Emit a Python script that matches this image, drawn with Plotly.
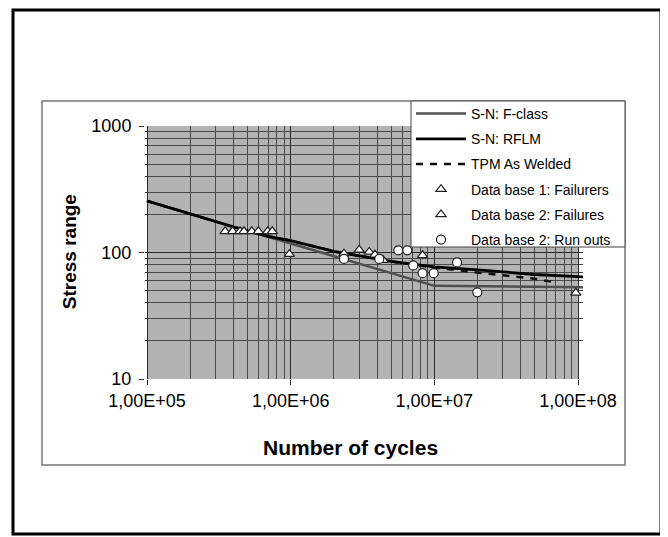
import plotly.graph_objects as go

# ---------------- data ----------------
fclass_N = [1e5, 1e7, 1.1e8]
fclass_S = [255, 54.5, 53]

rflm_N = [1e5, 2e5, 4e5, 7e5, 1e6, 2e6, 5e6, 1e7, 2e7, 5e7, 1.1e8]
rflm_S = [256, 201, 159, 134, 124, 102, 85, 77, 73, 67, 64]

tpm_N = [1e5, 2e5, 4e5, 7e5, 1e6, 2e6, 5e6, 1e7, 1.5e7, 2e7, 3e7, 5e7, 7e7]
tpm_S = [256, 201, 159, 134, 124, 102, 85, 76, 72, 69, 66, 62, 58]

db1_N = [3.5e5, 3.94e5, 4.44e5, 4.73e5, 5.36e5, 5.96e5, 6.92e5, 7.45e5]
db1_S = [147, 147, 147, 147, 147, 147, 147, 147]

db2_N = [9.8e5, 2.35e6, 3.0e6, 3.52e6, 3.86e6, 4.41e6, 8.28e6, 9.66e7]
db2_S = [97, 98, 105, 101, 96, 87, 95, 48]

run_N = [2.35e6, 4.14e6, 5.61e6, 6.48e6, 7.13e6, 8.28e6, 9.9e6, 1.44e7, 1.99e7]
run_S = [89, 89, 104, 104, 79, 68.6, 68.6, 83.4, 48.4]

x_tickvals = [1e5, 1e6, 1e7, 1e8]
x_ticktext = ["1,00E+05", "1,00E+06", "1,00E+07", "1,00E+08"]
y_tickvals = [10, 100, 1000]
y_ticktext = ["10", "100", "1000"]

# ---------------- layout geometry ----------------
OFF = 8                                   # page body margin of the html page
W, H = 668 - OFF, 537 - OFF
L, R, T, B = 145, 583, 126, 379           # plot area in page pixels
xr = [5 - 2 / 143.65, 8 + 5 / 143.65]
yr = [1, 3]


def px(x):
    return (x - L) / (R - L)


def py(y):
    return (B - y) / (B - T)


FONT = "Liberation Sans, Arial, sans-serif"

fig = go.Figure()

fig.add_trace(go.Scatter(x=fclass_N, y=fclass_S, mode="lines", name="S-N: F-class",
                         legendrank=1, legendgroup="a", line=dict(color="#505050", width=2.5)))
fig.add_trace(go.Scatter(x=tpm_N, y=tpm_S, mode="lines", name="TPM As Welded",
                         legendrank=3, legendgroup="c", line=dict(color="#111111", width=2.5, dash="7px,7px")))
fig.add_trace(go.Scatter(x=rflm_N, y=rflm_S, mode="lines", name="S-N: RFLM",
                         legendrank=2, legendgroup="b", line=dict(color="#000000", width=2.8)))
mk = dict(size=9, color="white", line=dict(color="#222222", width=1.2))
fig.add_trace(go.Scatter(x=db1_N, y=db1_S, mode="markers", name="Data base 1: Failurers",
                         legendrank=4, legendgroup="d", marker=dict(symbol="triangle-up", **mk)))
fig.add_trace(go.Scatter(x=db2_N, y=db2_S, mode="markers", name="Data base 2: Failures",
                         legendrank=5, legendgroup="e", marker=dict(symbol="triangle-up", **mk)))
fig.add_trace(go.Scatter(x=run_N, y=run_S, mode="markers", name="Data base 2: Run outs",
                         legendrank=6, legendgroup="f", marker=dict(symbol="circle", **mk)))

minor_x = [m * 10 ** e for e in range(5, 8) for m in range(2, 10)]
minor_y = [m * 10 ** e for e in range(1, 3) for m in range(2, 10)]

fig.update_xaxes(type="log", range=xr, tickmode="array", tickvals=x_tickvals, ticktext=x_ticktext,
                 showgrid=True, gridcolor="#2a2a2a", gridwidth=1, zeroline=False, showline=False,
                 ticks="outside", ticklen=5, tickcolor="#333",
                 tickfont=dict(family=FONT, size=18, color="black"),
                 minor=dict(tickmode="array", tickvals=minor_x, showgrid=True, gridcolor="#4a4a4a",
                            gridwidth=0.8, ticks=""))
fig.update_yaxes(type="log", range=yr, tickmode="array", tickvals=y_tickvals, ticktext=y_ticktext,
                 showgrid=True, gridcolor="#2a2a2a", gridwidth=1, zeroline=False, showline=False,
                 ticks="outside", ticklen=5, tickcolor="#333", ticklabelstandoff=4,
                 tickfont=dict(family=FONT, size=18, color="black"),
                 minor=dict(tickmode="array", tickvals=minor_y, showgrid=True, gridcolor="#4a4a4a",
                            gridwidth=0.8, ticks=""))

shapes = [
    dict(type="rect", xref="paper", yref="paper", x0=px(147), x1=px(578.5), y0=0, y1=1,
         fillcolor="#b3b3b3", line=dict(width=0), layer="below"),
    dict(type="rect", xref="paper", yref="paper", x0=px(42), x1=px(625), y0=py(465), y1=py(101),
         line=dict(color="#777777", width=1.5), fillcolor="rgba(0,0,0,0)", layer="below"),
    # legend box (white, drawn over the traces; legend entries sit on top)
    dict(type="rect", xref="paper", yref="paper", x0=px(411), x1=px(625), y0=py(247), y1=py(101),
         line=dict(color="#444444", width=1), fillcolor="white", layer="above"),
    dict(type="rect", xref="paper", yref="paper", x0=px(13), x1=px(661), y0=py(534), y1=py(10),
         line=dict(color="black", width=3), fillcolor="rgba(0,0,0,0)", layer="above"),
]

annotations = [
    dict(text="<b>Stress range</b>", xref="paper", yref="paper", x=px(69.7), y=py(251.5),
         textangle=-90, showarrow=False, font=dict(family=FONT, size=19, color="black"),
         xanchor="center", yanchor="middle"),
    dict(text="<b>Number of cycles</b>", xref="paper", yref="paper", x=px(350), y=py(447),
         showarrow=False, font=dict(family=FONT, size=21, color="black"),
         xanchor="center", yanchor="middle"),
]

fig.update_layout(
    width=W, height=H,
    margin=dict(l=L - OFF, r=(W + OFF) - R, t=T - OFF, b=(H + OFF) - B, pad=0),
    paper_bgcolor="white", plot_bgcolor="rgba(0,0,0,0)",
    font=dict(family=FONT, color="black"),
    showlegend=True,
    legend=dict(x=px(411), y=py(98), xanchor="left", yanchor="top",
                bgcolor="rgba(0,0,0,0)", borderwidth=0,
                font=dict(family=FONT, size=14, color="black"),
                itemwidth=50, tracegroupgap=4, traceorder="grouped"),
    shapes=shapes, annotations=annotations,
)

fig.write_html("out.html")
